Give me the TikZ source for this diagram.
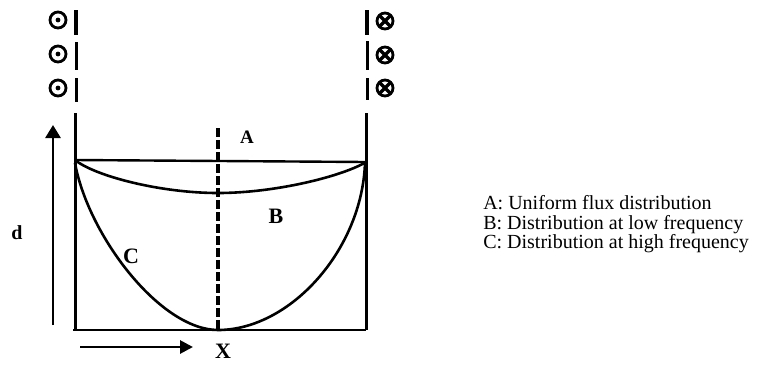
\documentclass[tikz,border=0pt]{standalone}
\usepackage{fontspec}
\setmainfont{Liberation Serif}
\usetikzlibrary{arrows.meta}
\begin{document}
\begin{tikzpicture}[x=1pt,y=-1pt,line width=2.6pt,
  wallseg/.style={line width=4pt},
  wallline/.style={line width=3pt},
  ringnode/.style={circle,draw,line width=2.8pt,minimum size=16pt,inner sep=0pt},
  dotring/.style={ringnode,path picture={\fill (path picture bounding box.center) circle (2.4pt);}},
  crossring/.style={ringnode,path picture={\draw[line width=3.2pt]
     (path picture bounding box.north west) -- (path picture bounding box.south east)
     (path picture bounding box.north east) -- (path picture bounding box.south west);}},
  curvestyle/.style={line width=2.6pt},
  biglbl/.style={font=\bfseries\fontsize{#1}{#1}\selectfont,inner sep=0pt},
  legend/.style={font=\fontsize{20}{20}\selectfont,anchor=base west,inner sep=0pt},
  arrowline/.style={line width=2.8pt}
]
\useasboundingbox (0,0) rectangle (762,365);

% current symbols
\node[dotring] (l1) at (58,20) {};
\node[dotring] (l2) at (58,54) {};
\node[dotring] (l3) at (58,88) {};
\node[crossring] (r1) at (385,21) {};
\node[crossring] (r2) at (385,55) {};
\node[crossring] (r3) at (385,88) {};

% walls (segmented)
\coordinate (lw1a) at (76,10);  \coordinate (lw1b) at (76,35);
\coordinate (lw2a) at (76,42);  \coordinate (lw2b) at (76,70);
\coordinate (lw3a) at (76,78);  \coordinate (lw3b) at (76,102);
\coordinate (lw4a) at (75,113);
\coordinate (rw1a) at (367,10); \coordinate (rw1b) at (367,35);
\coordinate (rw2a) at (367,41); \coordinate (rw2b) at (367,70);
\coordinate (rw3a) at (367,78); \coordinate (rw3b) at (367,100);
\coordinate (rw4a) at (366,113);
\draw[wallseg] (lw1a) -- (lw1b);
\draw[wallline] (lw2a) -- (lw2b) (lw3a) -- (lw3b);
\draw[wallseg] (rw1a) -- (rw1b);
\draw[wallline] (rw2a) -- (rw2b) (rw3a) -- (rw3b);

% box
\coordinate (tl) at (75,160);
\coordinate (tr) at (366,162);
\coordinate (bl) at (75,330);
\coordinate (br) at (366,330);
\coordinate (bl0) at (73,330);
\draw[wallline] (lw4a) -- (bl);
\draw[wallline] (rw4a) -- (br);
\draw[line width=2.4pt] (tl) -- (tr);
\draw[line width=2.6pt] (bl0) -- (br);

% dashed centre line
\coordinate (dtop) at (218,128);
\coordinate (dbot) at (218,330);
\draw[line width=3.4pt,dash pattern=on 9pt off 3pt] (dtop) -- (dbot);

% curve B
\coordinate (bmid) at (218,193);
\draw[curvestyle] (tl) .. controls (95,176) and (160,193) .. (bmid)
                       .. controls (276,193) and (343,176) .. (tr);
% curve C
\coordinate (cl) at (75,163);
\coordinate (cr) at (365,163);
\coordinate (cmid) at (218,330);
\draw[curvestyle] (cl) .. controls (88,235) and (160,330) .. (cmid)
                       .. controls (290,330) and (362,250) .. (cr);

% axes arrows
\coordinate (va1) at (53,325);
\coordinate (va2) at (53,125);
\draw[arrowline,-{Triangle[length=13pt,width=15pt]}] (va1) -- (va2);
\coordinate (ha1) at (80,347);
\coordinate (ha2) at (193,347);
\draw[arrowline,-{Triangle[length=13pt,width=13pt]}] (ha1) -- (ha2);

% labels
\node[biglbl=19] (la) at (247,137) {A};
\node[biglbl=22] (lb) at (276,216) {B};
\node[biglbl=22] (lc) at (131,256) {C};
\node[biglbl=20] (ld) at (17,233) {d};
\node[biglbl=22] (lx) at (223,351) {X};

% legend
\node[legend] (ta) at (482,209) {A: Uniform flux distribution};
\node[legend] (tb) at (482,229) {B: Distribution at low frequency};
\node[legend] (tc) at (482,248) {C: Distribution at high frequency};
\end{tikzpicture}
\end{document}
